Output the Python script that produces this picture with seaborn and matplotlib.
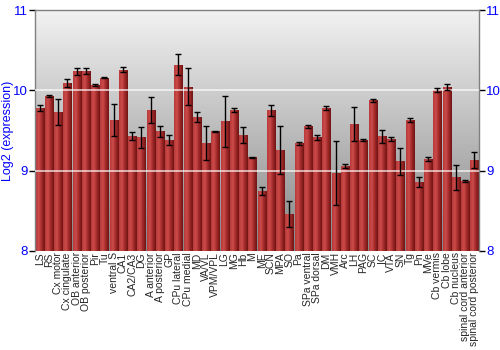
import numpy as np
import pandas as pd
import matplotlib
matplotlib.use("Agg")
import matplotlib.pyplot as plt
import seaborn as sns
from matplotlib.colors import LinearSegmentedColormap

regions = ["LS", "RS", "Cx motor", "Cx cingulate", "OB anterior", "OB posterior", "Pir", "Tu",
           "ventral S", "CA1", "CA2/CA3", "DG", "A anterior", "A posterior", "GP", "CPu lateral",
           "CPu medial", "MD", "VA/VL", "VPM/VPL", "LG", "MG", "Hb", "M", "ME", "SCN", "MPA", "SO",
           "Pa", "SPa ventral", "SPa dorsal", "DM", "VMH", "Arc", "LH", "PAG", "SC", "IC", "VTA",
           "SN", "Tg", "Pn", "MVe", "Cb vermis", "Cb lobe", "Cb nucleus", "spinal cord anterior",
           "spinal cord posterior"]
expression = [9.78, 9.93, 9.73, 10.095, 10.24, 10.24, 10.07, 10.16,
              9.63, 10.26, 9.43, 9.415, 9.755, 9.49, 9.38, 10.32,
              10.045, 9.67, 9.344, 9.49, 9.614, 9.75, 9.44, 9.166, 8.743, 9.75, 9.26, 8.46,
              9.34, 9.552, 9.415, 9.776, 8.97, 9.058, 9.585, 9.38, 9.876, 9.428, 9.40,
              9.116, 9.635, 8.859, 9.145, 10.004, 10.04, 8.917, 8.87, 9.137]
error = [0.04, 0.01, 0.16, 0.05, 0.045, 0.04, 0.01, 0.005,
         0.2, 0.03, 0.05, 0.13, 0.16, 0.065, 0.06, 0.13,
         0.23, 0.06, 0.21, 0.01, 0.32, 0.025, 0.1, 0.01, 0.05, 0.07, 0.3, 0.16,
         0.015, 0.015, 0.03, 0.025, 0.4, 0.03, 0.21, 0.015, 0.015, 0.08, 0.025,
         0.17, 0.025, 0.065, 0.03, 0.025, 0.04, 0.16, 0.01, 0.1]
yticks = [8, 9, 10, 11]

df = pd.DataFrame({"region": regions, "expr": expression, "err": error})

sns.set_style("white")
plt.rcParams['font.family'] = ['Liberation Sans', 'DejaVu Sans']
fig = plt.figure(figsize=(5, 3.5), dpi=100)
ax = fig.add_axes([0.07, 0.283, 0.888, 0.688])

# background gradient
bg = LinearSegmentedColormap.from_list("bg", ["#868686", "#f2f2f2"])
grad = np.linspace(0, 1, 256).reshape(-1, 1)
ax.imshow(grad, cmap=bg, aspect="auto", origin="lower",
          extent=[-0.5, len(regions) - 0.5, 8, 11], zorder=0)

sns.barplot(data=df, x="region", y="expr", color="#b03030", width=0.88,
            edgecolor="none", ax=ax, zorder=2)

# cylinder shading for each bar
barcm = LinearSegmentedColormap.from_list("bar", ["#b83a3a", "#cc4a4a", "#a02828", "#6e1414"])
hgrad = np.linspace(0, 1, 64).reshape(1, -1)
for p in ax.patches:
    x0, y0 = p.get_x(), p.get_y()
    w, h = p.get_width(), p.get_height()
    im = ax.imshow(hgrad, cmap=barcm, aspect="auto",
                   extent=[x0, x0 + w, 8, y0 + h], zorder=2.5)
    im.set_clip_path(p)

ax.errorbar(np.arange(len(regions)), df["expr"], yerr=df["err"], fmt="none",
            ecolor="black", elinewidth=1, capsize=2, capthick=1, zorder=4)

for yv in [9, 10]:
    ax.axhline(yv, color="white", lw=1.2, alpha=0.75, zorder=3)

ax.set_xlim(-0.5, len(regions) - 0.5)
ax.set_ylim(8, 11)
ax.set_yticks(yticks)
ax.set_yticklabels([str(t) for t in yticks])
ax.tick_params(axis="y", colors="black", labelcolor="blue", labelsize=9.5,
               length=4, width=1, left=True, right=True, labelright=True, pad=1)
ax.tick_params(axis="x", labelsize=7.5, rotation=90, length=0, pad=1)
ax.set_xlabel("")
ax.set_ylabel("Log2 (expression)", color="blue", fontsize=9)
ax.yaxis.set_label_coords(-0.047, 0.5)
for s in ["left", "right", "top"]:
    ax.spines[s].set_color("#808080")
    ax.spines[s].set_linewidth(1)
ax.spines["bottom"].set_visible(False)

fig.savefig("out.png", dpi=100)
